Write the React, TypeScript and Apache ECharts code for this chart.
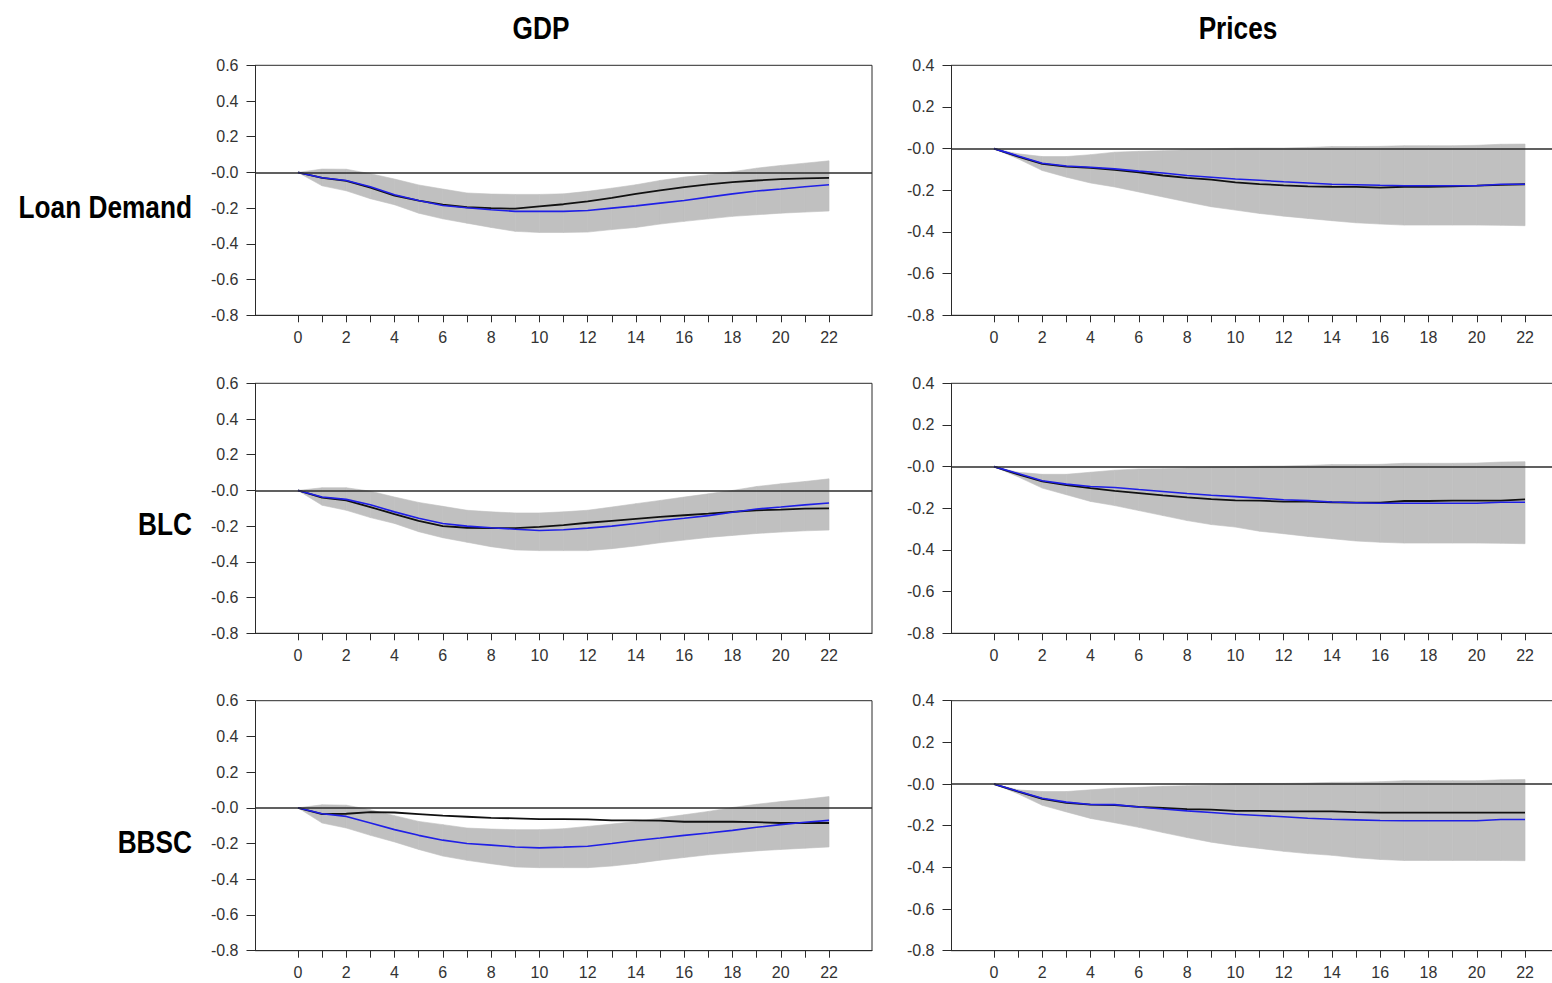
import React, { useEffect, useRef } from "react";
import * as echarts from "echarts";

// Impulse-response horizons (quarters) and axis labels
const HORIZON = [0, 1, 2, 3, 4, 5, 6, 7, 8, 9, 10, 11, 12, 13, 14, 15, 16, 17, 18, 19, 20, 21, 22];
const X_TICKS = [0, 1, 2, 3, 4, 5, 6, 7, 8, 9, 10, 11, 12, 13, 14, 15, 16, 17, 18, 19, 20, 21, 22];
const X_LABELS = [0, 2, 4, 6, 8, 10, 12, 14, 16, 18, 20, 22];
const COLUMN_TITLES = ["GDP", "Prices"];
const ROW_TITLES = ["Loan Demand", "BLC", "BBSC"];

// GDP response – Loan Demand shock
const gdpLoanBlack = [0, -0.03, -0.047, -0.085, -0.13, -0.158, -0.18, -0.195, -0.2, -0.203, -0.19, -0.178, -0.162, -0.142, -0.12, -0.1, -0.082, -0.067, -0.054, -0.045, -0.037, -0.033, -0.03];
const gdpLoanBlue = [0, -0.03, -0.045, -0.08, -0.125, -0.157, -0.185, -0.198, -0.209, -0.218, -0.218, -0.218, -0.213, -0.2, -0.187, -0.172, -0.157, -0.138, -0.12, -0.104, -0.093, -0.08, -0.069];
const gdpLoanUpper = [0, 0.019, 0.018, -0.007, -0.037, -0.07, -0.093, -0.115, -0.121, -0.123, -0.123, -0.12, -0.106, -0.088, -0.069, -0.045, -0.026, -0.013, 0.004, 0.024, 0.039, 0.052, 0.065];
const gdpLoanLower = [0, -0.075, -0.103, -0.147, -0.181, -0.228, -0.26, -0.284, -0.308, -0.33, -0.336, -0.336, -0.334, -0.32, -0.308, -0.289, -0.274, -0.26, -0.246, -0.237, -0.228, -0.222, -0.216];

// GDP response – BLC shock
const gdpBlcBlack = [0, -0.04, -0.055, -0.093, -0.133, -0.17, -0.2, -0.209, -0.211, -0.211, -0.204, -0.194, -0.181, -0.17, -0.159, -0.148, -0.139, -0.13, -0.12, -0.111, -0.107, -0.102, -0.1];
const gdpBlcBlue = [0, -0.037, -0.05, -0.08, -0.12, -0.156, -0.185, -0.2, -0.209, -0.217, -0.224, -0.22, -0.211, -0.2, -0.185, -0.17, -0.156, -0.141, -0.122, -0.104, -0.093, -0.081, -0.07];
const gdpBlcUpper = [0, 0.015, 0.015, -0.004, -0.037, -0.067, -0.089, -0.111, -0.12, -0.126, -0.126, -0.12, -0.111, -0.093, -0.074, -0.056, -0.037, -0.019, 0, 0.022, 0.037, 0.05, 0.065];
const gdpBlcLower = [0, -0.083, -0.111, -0.152, -0.185, -0.231, -0.265, -0.29, -0.315, -0.333, -0.337, -0.337, -0.337, -0.326, -0.311, -0.293, -0.278, -0.263, -0.252, -0.241, -0.233, -0.226, -0.222];

// GDP response – BBSC shock
const gdpBbscBlack = [0, -0.035, -0.033, -0.024, -0.026, -0.035, -0.044, -0.05, -0.056, -0.059, -0.063, -0.063, -0.065, -0.07, -0.07, -0.072, -0.078, -0.078, -0.078, -0.08, -0.085, -0.085, -0.085];
const gdpBbscBlue = [0, -0.033, -0.048, -0.085, -0.122, -0.154, -0.181, -0.2, -0.209, -0.219, -0.224, -0.22, -0.215, -0.2, -0.183, -0.169, -0.154, -0.141, -0.126, -0.109, -0.094, -0.081, -0.07];
const gdpBbscUpper = [0, 0.017, 0.015, -0.011, -0.044, -0.076, -0.094, -0.113, -0.119, -0.122, -0.122, -0.117, -0.104, -0.091, -0.076, -0.057, -0.039, -0.02, 0.002, 0.02, 0.035, 0.048, 0.063];
const gdpBbscLower = [0, -0.085, -0.113, -0.154, -0.191, -0.233, -0.27, -0.294, -0.313, -0.331, -0.335, -0.335, -0.335, -0.326, -0.311, -0.293, -0.278, -0.263, -0.252, -0.241, -0.233, -0.226, -0.219];

// Price response – Loan Demand shock
const prcLoanBlack = [0, -0.038, -0.073, -0.086, -0.092, -0.102, -0.114, -0.129, -0.14, -0.149, -0.162, -0.17, -0.176, -0.181, -0.183, -0.184, -0.187, -0.183, -0.183, -0.181, -0.178, -0.174, -0.171];
const prcLoanBlue = [0, -0.035, -0.07, -0.083, -0.089, -0.097, -0.108, -0.117, -0.129, -0.137, -0.146, -0.152, -0.159, -0.165, -0.171, -0.173, -0.176, -0.178, -0.178, -0.178, -0.178, -0.171, -0.171];
const prcLoanUpper = [0, -0.025, -0.038, -0.038, -0.029, -0.017, -0.013, -0.01, -0.005, -0.002, 0.002, 0.003, 0.003, 0.006, 0.01, 0.01, 0.011, 0.014, 0.014, 0.014, 0.016, 0.021, 0.022];
const prcLoanLower = [0, -0.049, -0.105, -0.137, -0.165, -0.184, -0.208, -0.232, -0.256, -0.279, -0.295, -0.311, -0.324, -0.335, -0.346, -0.356, -0.362, -0.367, -0.367, -0.367, -0.367, -0.368, -0.37];

// Price response – BLC shock
const prcBlcBlack = [0, -0.037, -0.071, -0.089, -0.103, -0.116, -0.127, -0.138, -0.148, -0.156, -0.162, -0.163, -0.168, -0.168, -0.171, -0.173, -0.173, -0.165, -0.165, -0.163, -0.163, -0.163, -0.157];
const prcBlcBlue = [0, -0.033, -0.068, -0.084, -0.095, -0.1, -0.11, -0.119, -0.129, -0.137, -0.144, -0.151, -0.159, -0.163, -0.17, -0.173, -0.176, -0.176, -0.176, -0.176, -0.176, -0.171, -0.171];
const prcBlcUpper = [0, -0.027, -0.037, -0.037, -0.027, -0.017, -0.011, -0.01, -0.006, -0.002, 0, 0.002, 0.003, 0.006, 0.01, 0.01, 0.011, 0.016, 0.016, 0.016, 0.017, 0.022, 0.024];
const prcBlcLower = [0, -0.049, -0.103, -0.135, -0.167, -0.187, -0.211, -0.235, -0.259, -0.278, -0.29, -0.31, -0.322, -0.335, -0.346, -0.357, -0.363, -0.367, -0.367, -0.367, -0.367, -0.368, -0.37];

// Price response – BBSC shock
const prcBbscBlack = [0, -0.036, -0.071, -0.09, -0.099, -0.101, -0.11, -0.115, -0.12, -0.123, -0.129, -0.129, -0.131, -0.131, -0.131, -0.135, -0.137, -0.137, -0.137, -0.137, -0.137, -0.137, -0.137];
const prcBbscBlue = [0, -0.035, -0.068, -0.087, -0.098, -0.099, -0.11, -0.12, -0.129, -0.137, -0.145, -0.151, -0.157, -0.164, -0.169, -0.172, -0.175, -0.176, -0.176, -0.176, -0.176, -0.17, -0.17];
const prcBbscUpper = [0, -0.028, -0.036, -0.036, -0.028, -0.02, -0.016, -0.011, -0.008, -0.005, 0.002, 0.003, 0.003, 0.005, 0.008, 0.009, 0.011, 0.016, 0.016, 0.016, 0.016, 0.02, 0.022];
const prcBbscLower = [0, -0.047, -0.102, -0.134, -0.165, -0.186, -0.208, -0.233, -0.257, -0.279, -0.296, -0.309, -0.323, -0.334, -0.342, -0.354, -0.362, -0.367, -0.367, -0.367, -0.367, -0.367, -0.368];

// Y-axis ranges per column
const GDP_Y = { min: -0.8, max: 0.6 };
const PRC_Y = { min: -0.8, max: 0.4 };

const SANS = "'Liberation Sans', Arial, sans-serif";

type Panel = {
  black: number[];
  blue: number[];
  upper: number[];
  lower: number[];
  y: { min: number; max: number };
};

const PANELS: Panel[][] = [
  [
    { black: gdpLoanBlack, blue: gdpLoanBlue, upper: gdpLoanUpper, lower: gdpLoanLower, y: GDP_Y },
    { black: prcLoanBlack, blue: prcLoanBlue, upper: prcLoanUpper, lower: prcLoanLower, y: PRC_Y },
  ],
  [
    { black: gdpBlcBlack, blue: gdpBlcBlue, upper: gdpBlcUpper, lower: gdpBlcLower, y: GDP_Y },
    { black: prcBlcBlack, blue: prcBlcBlue, upper: prcBlcUpper, lower: prcBlcLower, y: PRC_Y },
  ],
  [
    { black: gdpBbscBlack, blue: gdpBbscBlue, upper: gdpBbscUpper, lower: gdpBbscLower, y: GDP_Y },
    { black: prcBbscBlack, blue: prcBbscBlue, upper: prcBbscUpper, lower: prcBbscLower, y: PRC_Y },
  ],
];

// The right-hand column runs past the visible frame, so the canvas is wider
// than the viewport and clipped by its wrapper.
const CANVAS_WIDTH = 1600;
const VIEW_WIDTH = 1552;
const VIEW_HEIGHT = 983;

const GRID_LEFT = [255.5, 951.5];
const GRID_WIDTH = 616.5;
const GRID_TOP = [65.3, 383.3, 700.7];
const GRID_HEIGHT = 250;

const AXIS_COLOR = "#2b2b2b";
const LABEL_COLOR = "#333";
const BAND_COLOR = "#c0c0c0";

// Shaded confidence band: one quadrilateral per horizon step
function renderBandSegment(params: any, api: any) {
  const x0 = api.value(0);
  const lo0 = api.value(1);
  const up0 = api.value(2);
  const x1 = api.value(3);
  const lo1 = api.value(4);
  const up1 = api.value(5);
  const pts = [
    api.coord([x0, up0]),
    api.coord([x1, up1]),
    api.coord([x1, lo1]),
    api.coord([x0, lo0]),
  ];
  return {
    type: "polygon",
    shape: { points: pts },
    style: { fill: BAND_COLOR, stroke: BAND_COLOR, lineWidth: 0.6 },
    silent: true,
  };
}

function buildOption(): any {
  const grid: any[] = [];
  const xAxis: any[] = [];
  const yAxis: any[] = [];
  const series: any[] = [];
  let idx = 0;

  PANELS.forEach((row, r) => {
    row.forEach((p, c) => {
      grid.push({
        left: GRID_LEFT[c],
        top: GRID_TOP[r],
        width: GRID_WIDTH,
        height: GRID_HEIGHT,
        show: true,
        borderColor: AXIS_COLOR,
        borderWidth: 1,
        backgroundColor: "transparent",
      });
      xAxis.push({
        type: "value",
        gridIndex: idx,
        min: -1.76,
        max: 23.78,
        axisLine: { show: true, onZero: false, lineStyle: { color: AXIS_COLOR, width: 1 } },
        axisTick: {
          show: true,
          length: 7,
          customValues: X_TICKS,
          lineStyle: { color: AXIS_COLOR, width: 1 },
        },
        axisLabel: {
          show: true,
          customValues: X_LABELS,
          margin: 14,
          color: LABEL_COLOR,
          fontFamily: SANS,
          fontSize: 16,
          formatter: (v: number) => String(v),
        },
        splitLine: { show: false },
      });
      yAxis.push({
        type: "value",
        gridIndex: idx,
        min: p.y.min,
        max: p.y.max,
        interval: 0.2,
        axisLine: { show: true, onZero: false, lineStyle: { color: AXIS_COLOR, width: 1 } },
        axisTick: { show: true, length: 9, lineStyle: { color: AXIS_COLOR, width: 1 } },
        axisLabel: {
          show: true,
          margin: 17,
          color: LABEL_COLOR,
          fontFamily: SANS,
          fontSize: 16,
          formatter: (v: number) => (Math.abs(v) < 1e-9 ? "-0.0" : v.toFixed(1)),
        },
        splitLine: { show: false },
      });

      // zero reference line, drawn beneath the band
      series.push({
        type: "line",
        xAxisIndex: idx,
        yAxisIndex: idx,
        data: HORIZON.map((h, k) => [h, p.black[k]]),
        showSymbol: false,
        symbol: "none",
        lineStyle: { opacity: 0, width: 0 },
        silent: true,
        z: 1,
        markLine: {
          silent: true,
          symbol: ["none", "none"],
          label: { show: false },
          lineStyle: { color: AXIS_COLOR, width: 1.5, type: "solid" },
          data: [{ yAxis: 0 }],
        },
      });
      // confidence band
      series.push({
        type: "custom",
        xAxisIndex: idx,
        yAxisIndex: idx,
        renderItem: renderBandSegment,
        encode: { x: [0, 3], y: [1, 2, 4, 5] },
        data: HORIZON.slice(0, -1).map((h, k) => [
          h,
          p.lower[k],
          p.upper[k],
          HORIZON[k + 1],
          p.lower[k + 1],
          p.upper[k + 1],
        ]),
        silent: true,
        z: 2,
      });
      series.push({
        type: "line",
        xAxisIndex: idx,
        yAxisIndex: idx,
        data: HORIZON.map((h, k) => [h, p.black[k]]),
        showSymbol: false,
        symbol: "none",
        lineStyle: { color: "#111", width: 1.8 },
        silent: true,
        z: 3,
      });
      series.push({
        type: "line",
        xAxisIndex: idx,
        yAxisIndex: idx,
        data: HORIZON.map((h, k) => [h, p.blue[k]]),
        showSymbol: false,
        symbol: "none",
        lineStyle: { color: "#1f1fe6", width: 1.6 },
        silent: true,
        z: 4,
      });
      idx++;
    });
  });

  const titleStyle = {
    fontFamily: SANS,
    fontWeight: "bold",
    fontSize: 32,
    fill: "#000",
  };
  const NARROW_SCALE = 0.82;

  const graphic: any[] = [
    { type: "text", x: 541, y: 28, scaleX: NARROW_SCALE, style: { ...titleStyle, text: COLUMN_TITLES[0], textAlign: "center", textVerticalAlign: "middle" } },
    { type: "text", x: 1238, y: 28, scaleX: NARROW_SCALE, style: { ...titleStyle, text: COLUMN_TITLES[1], textAlign: "center", textVerticalAlign: "middle" } },
    { type: "text", x: 192, y: 207, scaleX: NARROW_SCALE, style: { ...titleStyle, text: ROW_TITLES[0], textAlign: "right", textVerticalAlign: "middle" } },
    { type: "text", x: 192, y: 524, scaleX: NARROW_SCALE, style: { ...titleStyle, text: ROW_TITLES[1], textAlign: "right", textVerticalAlign: "middle" } },
    { type: "text", x: 192, y: 842, scaleX: NARROW_SCALE, style: { ...titleStyle, text: ROW_TITLES[2], textAlign: "right", textVerticalAlign: "middle" } },
  ];

  return {
    animation: false,
    backgroundColor: "#ffffff",
    grid,
    xAxis,
    yAxis,
    series,
    graphic,
  };
}

export default function App() {
  const ref = useRef<HTMLDivElement>(null);

  useEffect(() => {
    if (!ref.current) return;
    const chart = echarts.init(ref.current, undefined, { renderer: "svg" });
    chart.setOption(buildOption());
    return () => {
      chart.dispose();
    };
  }, []);

  return (
    <div
      style={{
        position: "fixed",
        left: 0,
        top: 0,
        width: VIEW_WIDTH,
        height: VIEW_HEIGHT,
        overflow: "hidden",
        background: "#fff",
      }}
    >
      <div ref={ref} style={{ width: CANVAS_WIDTH, height: VIEW_HEIGHT }} />
    </div>
  );
}
